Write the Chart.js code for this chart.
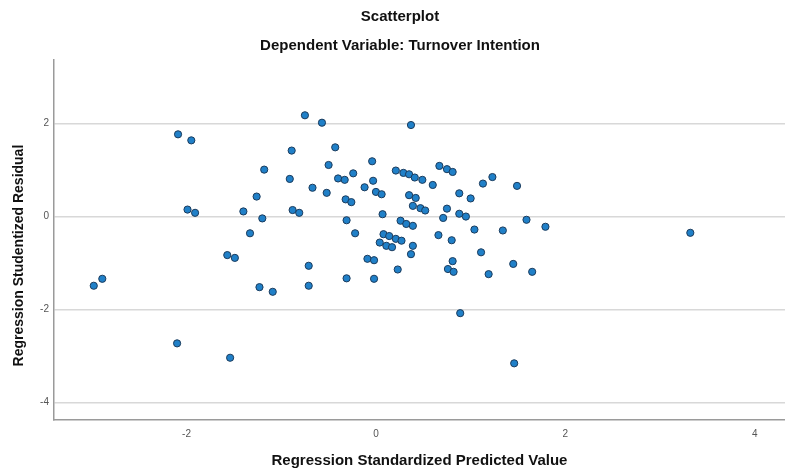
<!DOCTYPE html>
<html>
<head>
<meta charset="utf-8">
<title>Scatterplot</title>
<script src="https://cdn.jsdelivr.net/npm/chart.js@4"></script>
<style>
  html, body { margin: 0; padding: 0; background: #fff; }
  #wrap { width: 785px; height: 472px; }
</style>
</head>
<body>
<div id="wrap"><canvas id="scatter-chart"></canvas></div>
<script>
// Variables and Lists

// Regression Standardized Predicted Value (x)
var predicted = [
  -2.09, -1.95, -1.99, -1.91, -1.40, -1.26, -1.33, -1.57, -1.49, -2.89,
  -2.98, -0.75, -0.57, 0.37, -0.89, -0.43, -0.50, -0.04, -1.18, -0.91,
  -0.67, -0.52, -0.40, -0.33, -0.24, -0.12, -0.03, 0.00, 0.06, 0.21,
  0.29, 0.35, 0.41, 0.49, 0.60, 0.67, 0.75, -0.32, -0.26, 0.35,
  0.42, 0.39, 0.47, 0.52, 0.75, -0.88, -0.81, -1.20, -0.31, 0.07,
  0.26, 0.32, 0.39, 0.71, -0.22, 0.08, 0.14, 0.21, 0.27, 0.04,
  0.11, 0.17, 0.39, 0.66, 0.37, -0.09, -0.02, -0.71, 0.23, -0.31,
  -0.02, 0.81, 1.13, 1.23, 1.49, 0.88, 1.00, 0.88, 0.95, 1.59,
  1.79, 1.04, 1.34, 0.80, 1.11, 0.81, 0.76, 0.82, 1.19, 1.45,
  1.65, 3.32, -1.23, -1.09, -0.71, -2.10, -1.54, 0.89, 1.46
];

// Regression Studentized Residual (y)
var residual = [
  1.77, 1.64, 0.15, 0.08, 0.11, 0.43, -0.36, -0.83, -0.89, -1.34,
  -1.49, 2.18, 2.02, 1.97, 1.42, 1.49, 1.11, 1.19, 1.01, 0.81,
  0.62, 0.51, 0.82, 0.79, 0.93, 0.63, 0.77, 0.53, 0.48, 0.99,
  0.94, 0.91, 0.84, 0.79, 0.68, 1.09, 1.02, 0.37, 0.31, 0.46,
  0.40, 0.23, 0.18, 0.13, 0.17, 0.14, 0.08, -0.04, -0.08, 0.05,
  -0.09, -0.16, -0.20, -0.03, -0.36, -0.38, -0.42, -0.48, -0.52, -0.56,
  -0.63, -0.66, -0.63, -0.40, -0.81, -0.91, -0.94, -1.06, -1.14, -1.33,
  -1.34, 0.96, 0.71, 0.85, 0.66, 0.50, 0.39, 0.06, 0.00, -0.07,
  -0.22, -0.28, -0.30, -0.51, -0.77, -0.96, -1.13, -1.19, -1.24, -1.02,
  -1.19, -0.35, -1.52, -1.62, -1.49, -2.73, -3.04, -2.08, -3.16
];

// tick labels
var xTicks = [-2, 0, 2, 4];
var yTicks = [-4, -2, 0, 2];

// points for chart.js
function points() {
    var pts = [];
    for (let i = 0; i < predicted.length; i++) {
        pts.push({x: predicted[i], y: residual[i]});
    }
    return pts;
}

// nudge the two top titles a little to the right (they sit at ~400px, not mid canvas)
var titleShift = {
    id: 'titleShift',
    afterLayout: function(chart) {
        chart.boxes.forEach(function(box) {
            if (box.position === 'top' && box.options && typeof box.options.text === 'string') {
                box.left += 15;
            }
        });
    }
};

new Chart(document.getElementById("scatter-chart"), {
    type: 'scatter',
    data: {
        datasets: [{
            data: points(),
            backgroundColor: '#2080c8',
            borderColor: '#1b3b5c',
            borderWidth: 1,
            pointRadius: 3.6,
        }]
    },
    plugins: [titleShift],
    options: {
        responsive: true,
        maintainAspectRatio: false,
        animation: false,
        layout: {
            autoPadding: false,  // keep plot running to the right edge
            padding: {top: 0, right: 0, bottom: 0, left: 0}
        },
        plugins: {
            legend: {display: false},
            tooltip: {enabled: false},
            title: {
                display: true,
                text: 'Scatterplot',
                color: '#111',
                font: {family: 'Liberation Sans', size: 15, weight: 'bold'},
                padding: {top: 8, bottom: 5}
            },
            subtitle: {
                display: true,
                text: 'Dependent Variable: Turnover Intention',
                color: '#111',
                font: {family: 'Liberation Sans', size: 15, weight: 'bold'},
                padding: {top: 6, bottom: 5}
            }
        },
        scales: {
            x: {
                type: 'linear',
                min: -3.40,
                max: 4.32,
                afterBuildTicks: function(scale) {
                    scale.ticks = xTicks.map(v => ({value: v}));
                },
                afterFit: function(scale) {
                    scale.height = 52;
                },
                grid: {display: true, color: 'rgba(0,0,0,0)', drawTicks: false},
                border: {display: true, color: '#9a9a9a', width: 1.5},
                ticks: {
                    color: '#555',
                    padding: 8,
                    font: {family: 'Liberation Sans', size: 10}
                },
                title: {
                    display: true,
                    text: 'Regression Standardized Predicted Value',
                    color: '#111',
                    font: {family: 'Liberation Sans', size: 15, weight: 'bold'},
                    padding: {top: 6, bottom: 2}
                }
            },
            y: {
                type: 'linear',
                min: -4.38,
                max: 3.37,
                afterBuildTicks: function(scale) {
                    scale.ticks = yTicks.map(v => ({value: v}));
                },
                afterFit: function(scale) {
                    scale.width = 54;
                },
                grid: {color: '#d8d8d8', lineWidth: 1.5, drawTicks: false},
                border: {display: true, color: '#9a9a9a', width: 1.5},
                ticks: {
                    color: '#555',
                    padding: 5,
                    font: {family: 'Liberation Sans', size: 10}
                },
                title: {
                    display: true,
                    // trailing spaces push the label down a bit, like the original
                    text: 'Regression Studentized Residual        ',
                    color: '#111',
                    font: {family: 'Liberation Sans', size: 14, weight: 'bold'},
                    padding: {top: 11, bottom: 0}
                }
            }
        }
    }
});
</script>
</body>
</html>
